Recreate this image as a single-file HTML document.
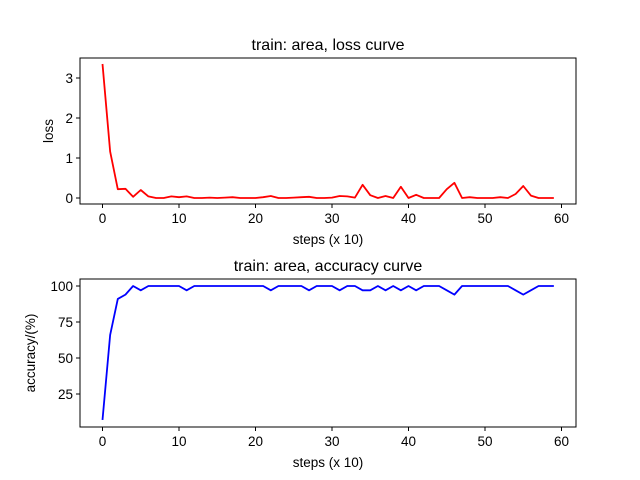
<!DOCTYPE html>
<html><head><meta charset="utf-8"><style>body{margin:0;background:#fff}svg{display:block;font-family:"Liberation Sans","DejaVu Sans",sans-serif}</style></head>
<body>
<svg id="fig" width="640" height="480" viewBox="0 0 640 480" xmlns="http://www.w3.org/2000/svg"></svg>
<script>
const steps = Array.from({length:60},(_,i)=>i);
const lossValues = [3.35,1.16,0.22,0.23,0.03,0.2,0.04,0.0,0.0,0.04,0.02,0.04,0.0,0.0,0.01,0.0,0.01,0.02,0.0,0.0,0.0,0.02,0.05,0.0,0.0,0.01,0.02,0.03,0.0,0.0,0.01,0.05,0.04,0.01,0.33,0.07,0.0,0.05,0.0,0.28,0.0,0.08,0.0,0.0,0.0,0.22,0.38,0.0,0.02,0.0,0.0,0.0,0.02,0.0,0.1,0.3,0.06,0.0,0.0,0.0];
const accValues = [7,66,91,94,100,97,100,100,100,100,100,97,100,100,100,100,100,100,100,100,100,100,97,100,100,100,100,97,100,100,100,97,100,100,97,97,100,97,100,97,100,97,100,100,100,97,94,100,100,100,100,100,100,100,97,94,97,100,100,100];
const xTicks = [0,10,20,30,40,50,60];
const lossTicks = [0,1,2,3];
const accTicks = [25,50,75,100];

const svg = document.getElementById('fig');
const NS = 'http://www.w3.org/2000/svg';
function mk(tag, attrs, parent){const e=document.createElementNS(NS,tag);for(const k in attrs)e.setAttribute(k,attrs[k]);(parent||svg).appendChild(e);return e;}
const L=80,R=576;
const xs = v => 102.5 + v*7.65;

function panel(name, top, bottom, y, yTicks, vals, color, title, ylabel){
  const g = mk('g',{});
  
  
  const t = mk('text',{x:(L+R)/2,y:top-8,'text-anchor':'middle','font-size':'16',fill:'#000'},g);
  t.textContent = title;
  
  
  const pts = vals.map((v,i)=>xs(steps[i]).toFixed(2)+','+y(v).toFixed(2)).join(' ');
  const line = mk('polyline',{points:pts,fill:'none',stroke:color,'stroke-width':'1.8','stroke-linejoin':'round'},g);
  
  
  const frame = mk('rect',{x:L,y:top,width:R-L,height:bottom-top,fill:'none',stroke:'#000','stroke-width':'1'},g);
  
  
  xTicks.forEach(v=>{
    mk('line',{x1:xs(v),x2:xs(v),y1:bottom,y2:bottom+4,stroke:'#000'},g);
    const tx = mk('text',{x:xs(v),y:bottom+19,'text-anchor':'middle','font-size':'13.5',fill:'#000'},g);
    tx.textContent = v;
    
    
  });
  yTicks.forEach(v=>{
    mk('line',{x1:L-4,x2:L,y1:y(v),y2:y(v),stroke:'#000'},g);
    const ty = mk('text',{x:L-7,y:y(v)+5,'text-anchor':'end','font-size':'13.5',fill:'#000'},g);
    ty.textContent = v;
    
    
  });
  const xl = mk('text',{x:(L+R)/2,y:bottom+40,'text-anchor':'middle','font-size':'13.5',fill:'#000'},g);
  xl.textContent = 'steps (x 10)';
  
  
  const cy=(top+bottom)/2, cx = ylabel.length>6?35:53;
  const yl = mk('text',{x:cx,y:cy,'text-anchor':'middle','font-size':'13.5',fill:'#000',transform:`rotate(-90 ${cx} ${cy})`},g);
  yl.textContent = ylabel;
  
  
}
panel('loss-chart',58,204,v=>198-v*40,lossTicks,lossValues,'#ff0000','train: area, loss curve','loss');
panel('accuracy-chart',279,427,v=>430-v*1.44,accTicks,accValues,'#0000ff','train: area, accuracy curve','accuracy/(%)');
</script>
</body></html>
